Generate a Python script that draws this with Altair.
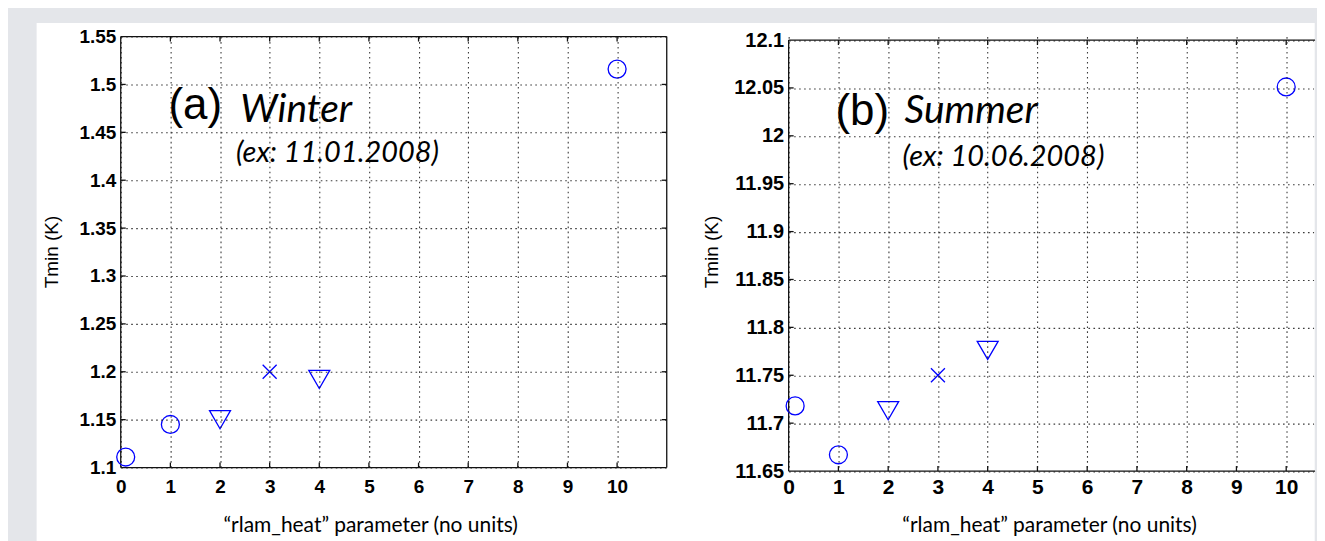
import altair as alt
import pandas as pd

# ---- data ----
rlam_winter = [0.1, 1, 2, 3, 4, 10]
tmin_winter = [1.111, 1.145, 1.15, 1.2, 1.192, 1.516]
rlam_summer = [0.13, 1, 2, 3, 4, 10]
tmin_summer = [11.718, 11.667, 11.713, 11.75, 11.776, 12.051]
markers = ["o", "o", "v", "x", "v", "o"]

x_ticks = list(range(0, 11))
y_ticks_winter = [1.1, 1.15, 1.2, 1.25, 1.3, 1.35, 1.4, 1.45, 1.5, 1.55]
y_ticks_summer = [11.65, 11.7, 11.75, 11.8, 11.85, 11.9, 11.95, 12.0, 12.05, 12.1]

ann_text_winter = ["(a)", "Winter", "(ex: 11.01.2008)"]
ann_x_winter = [0.96, 2.41, 2.32]
ann_y_winter = [1.4641, 1.4612, 1.4185]
ann_text_summer = ["(b)", "Summer", "(ex: 10.06.2008)"]
ann_x_summer = [0.94, 2.33, 2.29]
ann_y_summer = [12.011, 12.013, 11.969]

x_title = "\u201crlam_heat\u201d parameter (no units)"
y_title = "Tmin (K)"

BLUE = "#0000ff"
ANN_FONTS = [("Liberation Sans", 44, "normal"), ("Lato", 39, "italic"), ("Lato", 29, "italic")]
GRID = dict(gridColor="#1a1a1a", gridDash=[1.6, 3.4], gridWidth=1.1, gridOpacity=0.85)
TICK_PX = 5


def panel(xs, ys, xdom, ydom, frame_box, yticks, width, height, ann_t, ann_x, ann_y,
          bg, xls, xlp, yls, title_x, title_y, ytitle_pos, right_edge):
    df = pd.DataFrame({"x": xs, "y": ys, "m": markers})
    xscale = alt.Scale(domain=xdom, nice=False, zero=False)
    yscale = alt.Scale(domain=ydom, nice=False, zero=False)
    xaxis = alt.Axis(values=x_ticks, format="d", grid=True, ticks=False, domain=False,
                     labelFlush=False, labelOverlap=False, labelFont="Liberation Sans",
                     labelFontSize=xls, labelFontWeight="bold", labelColor="black",
                     labelPadding=xlp,
                     title=x_title, titleFont="Lato", titleFontSize=21,
                     titleFontWeight="normal", titleColor="black",
                     titleX=title_x, titleY=title_y, titleBaseline="alphabetic",
                     zindex=1, **GRID)
    yaxis = alt.Axis(values=yticks, format=".2~f", grid=True, ticks=False, domain=False,
                     labelFlush=False, labelOverlap=False, labelFont="Liberation Sans",
                     labelFontSize=yls, labelFontWeight="bold", labelColor="black",
                     labelPadding=5, title="", titlePadding=0, zindex=1, **GRID)
    X = alt.X("x:Q", scale=xscale, axis=xaxis)
    Y = alt.Y("y:Q", scale=yscale, axis=yaxis)

    layers = []
    if bg is not False:
        layers.append(alt.Chart(pd.DataFrame({"k": [0]})).mark_rect(color="white").encode(
            x=alt.value(bg[0]), x2=alt.value(bg[1]), y=alt.value(bg[2]), y2=alt.value(bg[3])))

    # frame box plus small inward ticks (matlab style), all in data units
    x0, x1, y0, y1 = frame_box
    dx = TICK_PX * (xdom[1] - xdom[0]) / width
    dy = TICK_PX * (ydom[1] - ydom[0]) / height
    seg = {"x": [x0, x0, x0], "x2": [x1, x1, x0], "y": [y0, y1, y0], "y2": [y0, y1, y1]}
    if right_edge:
        seg["x"].append(x1); seg["x2"].append(x1); seg["y"].append(y0); seg["y2"].append(y1)
    for t in x_ticks[1:]:
        seg["x"] += [t, t]; seg["x2"] += [t, t]
        seg["y"] += [y0, y1]; seg["y2"] += [y0 + dy, y1 - dy]
    for t in yticks[1:-1]:
        seg["x"].append(x0); seg["x2"].append(x0 + dx); seg["y"].append(t); seg["y2"].append(t)
        if right_edge:
            seg["x"].append(x1); seg["x2"].append(x1 - dx); seg["y"].append(t); seg["y2"].append(t)
    layers.append(alt.Chart(pd.DataFrame(seg)).mark_rule(color="#111111", strokeWidth=1.3).encode(
        x=X, x2=alt.X2("x2"), y=Y, y2=alt.Y2("y2")))

    layers.append(alt.Chart(pd.DataFrame({"t": [y_title]})).mark_text(
        angle=270, align="center", baseline="alphabetic", font="Liberation Sans",
        fontSize=19, color="black").encode(
        x=alt.value(ytitle_pos[0]), y=alt.value(ytitle_pos[1]), text="t:N"))

    base = alt.Chart(df).encode(x=X, y=Y)
    layers.append(base.transform_filter(alt.datum.m == "o").mark_point(
        shape="circle", size=324, filled=False, color=BLUE, strokeWidth=1.3, opacity=1))
    layers.append(base.transform_filter(alt.datum.m == "v").mark_point(
        shape="triangle-down", size=441, filled=False, color=BLUE, strokeWidth=1.3, opacity=1))
    layers.append(base.transform_filter(alt.datum.m == "x").mark_point(
        shape="M-1,-1L1,1M-1,1L1,-1", size=196, filled=False, color=BLUE,
        strokeWidth=1.3, opacity=1))
    for i, (font, size, style) in enumerate(ANN_FONTS):
        tdf = pd.DataFrame({"x": [ann_x[i]], "y": [ann_y[i]], "t": [ann_t[i]]})
        layers.append(alt.Chart(tdf).mark_text(align="left", baseline="alphabetic",
                                               font=font, fontSize=size, fontStyle=style,
                                               color="black").encode(x=X, y=Y, text="t:N"))
    return alt.layer(*layers).properties(width=width, height=height)


# one white sheet (drawn in the left panel) behind both panels
left = panel(rlam_winter, tmin_winter, [0, 11], [1.1, 1.55], (0, 11, 1.1, 1.55),
             y_ticks_winter, 547.25, 432,
             ann_text_winter, ann_x_winter, ann_y_winter,
             bg=(-84.3, 1196.7, -13.5, 505.5), xls=19, xlp=10, yls=19,
             title_x=250, title_y=64, ytitle_pos=(-63, 216), right_edge=True)
right = panel(rlam_summer, tmin_summer, [0, 10.55], [11.65, 12.10365], (0, 10.58, 11.65, 12.1),
              y_ticks_summer, 526.1, 435.5,
              ann_text_summer, ann_x_summer, ann_y_summer,
              bg=False, xls=21, xlp=6, yls=20,
              title_x=261, title_y=61, ytitle_pos=(-71, 216), right_edge=False)

chart = alt.hconcat(left, right, spacing=121.45, bounds="flush").properties(
    padding={"left": 28, "top": 14, "right": 0, "bottom": 0},
    background="#e4e6ea",
).configure_view(stroke="transparent").configure_axis(
    labelFont="Liberation Sans", labelColor="black", titleColor="black",
    titleFontWeight="normal", ticks=False, domain=False, zindex=1, labelFlush=False,
    **GRID
).configure_axisX(
    titleFont="Lato", titleFontSize=21, labelFontSize=20
)

chart.save("out.html", embed_options={"renderer": "svg", "actions": False})
